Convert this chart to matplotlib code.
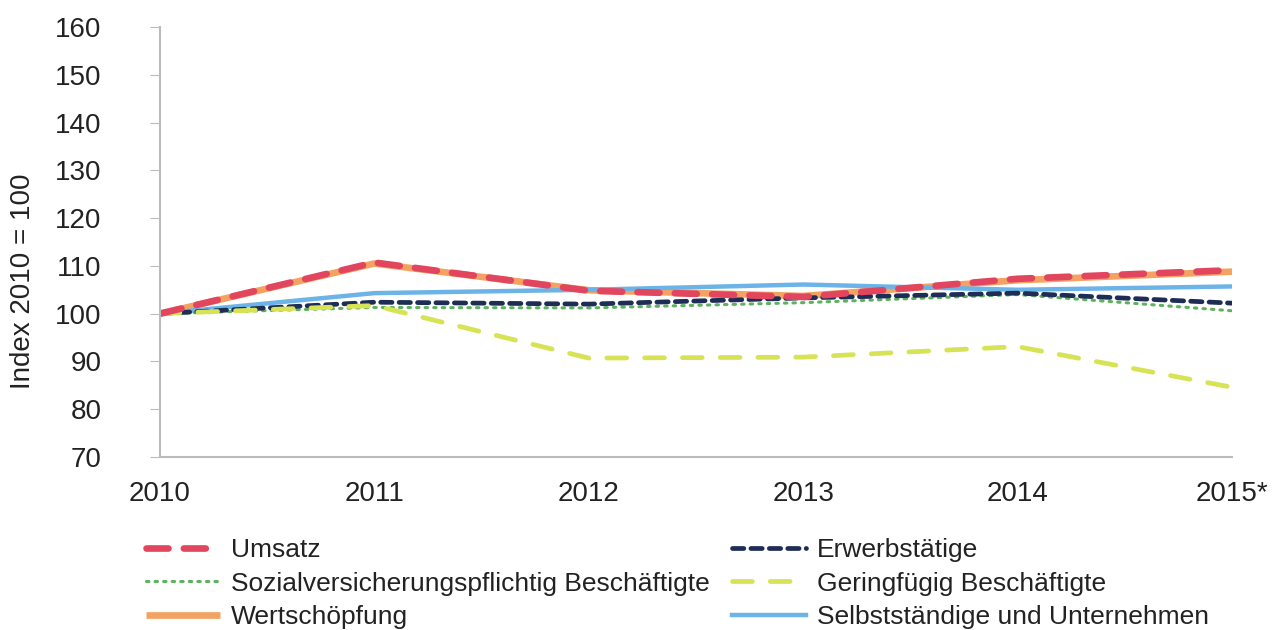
"""
Index chart 2010 = 100, several indicators 2010-2015.
"""
import matplotlib.pyplot as plt

plt.rcParams["font.family"] = ["Liberation Sans", "DejaVu Sans"]

years = ["2010", "2011", "2012", "2013", "2014", "2015*"]
umsatz = [100, 110.7, 104.8, 103.5, 107.3, 109.1]
wertschoepfung = [100, 110.5, 104.9, 103.7, 107.0, 108.8]
erwerbstaetige = [100, 102.4, 102.0, 103.3, 104.3, 102.2]
sozial = [100, 101.3, 101.2, 102.3, 104.0, 100.6]
geringfuegig = [100, 101.7, 90.7, 90.9, 93.1, 84.6]
selbststaendige = [100, 104.3, 105.0, 106.1, 105.0, 105.7]

fig = plt.figure(figsize=(12.84, 6.3), dpi=100)
ax = fig.add_axes([160 / 1284, 1 - 457 / 630, 1072 / 1284, 430 / 630])
x = range(len(years))

l_wert, = ax.plot(x, wertschoepfung, color="#F4A261", lw=4.8, solid_capstyle="butt",
                  label="Wertschöpfung")
l_selb, = ax.plot(x, selbststaendige, color="#6CB4E8", lw=3.2, label="Selbstständige und Unternehmen")
l_soz, = ax.plot(x, sozial, color="#5DB35D", lw=2.2, dashes=(0.8, 2.0), dash_capstyle="round",
                 label="Sozialversicherungspflichtig Beschäftigte")
l_erw, = ax.plot(x, erwerbstaetige, color="#1E2D55", lw=3.4, dashes=(2.4, 1.5),
                 dash_capstyle="round", label="Erwerbstätige")
l_ger, = ax.plot(x, geringfuegig, color="#D7E354", lw=3.4, dashes=(4.2, 3.8),
                 dash_capstyle="round", label="Geringfügig Beschäftigte")
l_ums, = ax.plot(x, umsatz, color="#E2465E", lw=4.8, dashes=(3.3, 2.3),
                 dash_capstyle="round", label="Umsatz")

ax.set_xlim(0, len(years) - 1)
ax.set_ylim(70, 160)
ax.set_yticks(range(70, 161, 10))
ax.set_xticks(list(x))
ax.set_xticklabels(years)
ax.tick_params(axis="y", labelsize=20, colors="#222222", length=7, color="#BBBBBB", pad=35)
ax.tick_params(axis="x", labelsize=20, colors="#222222", length=0, pad=17)
ax.set_ylabel("Index 2010 = 100", fontsize=20, color="#222222")
ax.yaxis.set_label_coords(-0.116, 0.409)
for s in ["top", "right"]:
    ax.spines[s].set_visible(False)
ax.spines["left"].set_color("#BBBBBB")
ax.spines["bottom"].set_color("#BBBBBB")
ax.spines["left"].set_linewidth(1.5)
ax.spines["bottom"].set_linewidth(1.5)

kw = dict(frameon=False, fontsize=19, handlelength=2.8, handletextpad=0.42,
          labelspacing=0.36, borderpad=0, borderaxespad=0, loc="upper left")
leg1 = fig.legend([l_ums, l_soz, l_wert], [l_ums.get_label(), l_soz.get_label(), l_wert.get_label()],
                  bbox_to_anchor=(146 / 1284, 1 - 538 / 630), **kw)
leg2 = fig.legend([l_erw, l_ger, l_selb], [l_erw.get_label(), l_ger.get_label(), l_selb.get_label()],
                  bbox_to_anchor=(732 / 1284, 1 - 538 / 630), **kw)
for leg in (leg1, leg2):
    for t in leg.get_texts():
        t.set_color("#222222")

fig.savefig("out.png", dpi=100)
